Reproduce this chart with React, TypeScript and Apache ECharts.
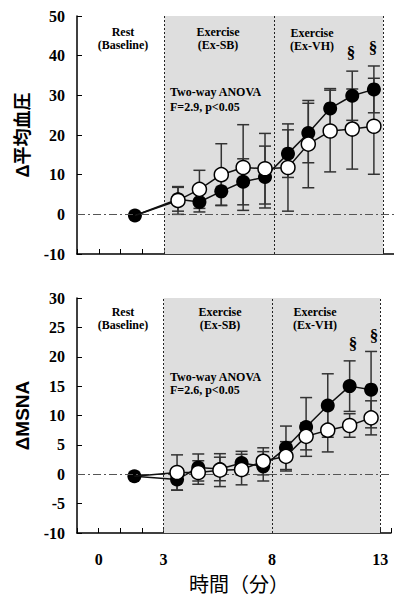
import React, { useEffect, useRef } from "react";
import * as echarts from "echarts";

// time (min) of each measurement
const baseTime = 1.65;
const times = [3.62, 4.6, 5.6, 6.6, 7.6, 8.65, 9.58, 10.58, 11.59, 12.58];

// Δ mean blood pressure (top panel)
const mapBlackBase = -0.3;
const mapBlack = [3.8, 3.1, 5.8, 8.2, 9.4, 15.3, 20.5, 26.7, 29.9, 31.5];
const mapBlackErr = [3.0, 2.5, 3.5, 5.8, 7.8, 6.0, 7.5, 5.0, 6.2, 5.9];
const mapWhite = [3.5, 6.3, 10.0, 11.8, 11.5, 11.8, 17.7, 21.0, 21.5, 22.2];
const mapWhiteErr = [3.5, 4.8, 7.8, 10.8, 8.9, 11.0, 11.0, 10.3, 10.1, 12.1];

// Δ MSNA (bottom panel)
const msnaBlackBase = -0.35;
const msnaBlack = [-0.9, 1.15, 0.9, 1.9, 1.35, 4.5, 8.05, 11.7, 15.0, 14.4];
const msnaBlackErr = [1.8, 2.3, 2.0, 2.0, 2.5, 3.7, 5.0, 5.4, 4.3, 6.5];
const msnaWhite = [0.3, 0.3, 0.7, 0.8, 2.2, 3.05, 6.45, 7.5, 8.3, 9.6];
const msnaWhiteErr = [3.0, 2.0, 2.8, 2.6, 2.3, 2.5, 2.3, 3.7, 2.0, 2.9];

const xTickLabels = [0, 3, 8, 13];
const phaseBounds = [3, 8, 13];

const SERIF = "'Liberation Serif', 'Times New Roman', serif";
const SANS = "'Liberation Sans', 'Noto Sans CJK JP', sans-serif";

function errData(vals: number[], errs: number[]) {
  return vals.map((v, i) => [times[i], v - errs[i], v + errs[i]]);
}

function errorSeries(vals: number[], errs: number[], idx: number) {
  return {
    type: "custom",
    xAxisIndex: idx,
    yAxisIndex: idx,
    z: 3,
    silent: true,
    data: errData(vals, errs),
    renderItem: (params: any, api: any) => {
      const x = api.value(0);
      const lo = api.coord([x, api.value(1)]);
      const hi = api.coord([x, api.value(2)]);
      const w = 6;
      const style = { stroke: "#333", lineWidth: 1.5 };
      return {
        type: "group",
        children: [
          { type: "line", shape: { x1: lo[0], y1: lo[1], x2: hi[0], y2: hi[1] }, style },
          { type: "line", shape: { x1: hi[0] - w, y1: hi[1], x2: hi[0] + w, y2: hi[1] }, style },
          { type: "line", shape: { x1: lo[0] - w, y1: lo[1], x2: lo[0] + w, y2: lo[1] }, style },
        ],
      };
    },
  };
}

function panelSeries(
  idx: number,
  blackBase: number,
  black: number[],
  blackErr: number[],
  white: number[],
  whiteErr: number[]
) {
  return [
    {
      type: "line",
      xAxisIndex: idx,
      yAxisIndex: idx,
      z: 1,
      silent: true,
      data: [],
      markArea: {
        silent: true,
        itemStyle: { color: "#dedede" },
        data: [[{ xAxis: phaseBounds[0] }, { xAxis: phaseBounds[2] }]],
      },
    },
    {
      type: "line",
      xAxisIndex: idx,
      yAxisIndex: idx,
      z: 2,
      silent: true,
      data: [],
      markLine: {
        silent: true,
        symbol: "none",
        label: { show: false },
        data: [
          ...phaseBounds.map((b) => ({
            xAxis: b,
            lineStyle: { color: "#222", width: 1, type: [2, 2] },
          })),
          { yAxis: 0, lineStyle: { color: "#555", width: 1.2, type: [8, 3, 2, 3] } },
        ],
      },
    },
    errorSeries(black, blackErr, idx),
    errorSeries(white, whiteErr, idx),
    {
      type: "line",
      xAxisIndex: idx,
      yAxisIndex: idx,
      z: 4,
      symbol: "circle",
      symbolSize: 14,
      lineStyle: { color: "#111", width: 1.5 },
      itemStyle: { color: "#000" },
      data: [[baseTime, blackBase], ...black.map((v, i) => [times[i], v])],
    },
    {
      type: "line",
      xAxisIndex: idx,
      yAxisIndex: idx,
      z: 5,
      symbol: "circle",
      symbolSize: 14,
      lineStyle: { color: "#111", width: 1.5 },
      itemStyle: { color: "#fff", borderColor: "#000", borderWidth: 1.5 },
      data: [
        { value: [baseTime, blackBase], symbolSize: 0 },
        ...white.map((v, i) => [times[i], v]),
      ],
    },
  ];
}

function xAxisOpt(idx: number, showLabels: boolean) {
  return {
    type: "value",
    gridIndex: idx,
    min: -1,
    max: 13.5,
    interval: 1,
    axisLine: { onZero: false, lineStyle: { color: "#000", width: 1.5 } },
    axisTick: { inside: true, length: 5, lineStyle: { color: "#000", width: 1 } },
    splitLine: { show: false },
    axisLabel: {
      show: showLabels,
      margin: 18,
      fontFamily: SERIF,
      fontWeight: "bold",
      fontSize: 16,
      color: "#000",
      formatter: (v: number) => (xTickLabels.includes(v) ? String(v) : ""),
    },
    name: showLabels ? "時間（分）" : "",
    nameLocation: "middle",
    nameGap: 42,
    nameTextStyle: { fontFamily: SANS, fontSize: 20, color: "#000", padding: [0, 0, 0, 10] },
  };
}

function yAxisOpt(idx: number, min: number, max: number, interval: number, name: string, nameSize: number) {
  return {
    type: "value",
    gridIndex: idx,
    min,
    max,
    interval,
    axisLine: { show: true, onZero: false, lineStyle: { color: "#000", width: 1.5 } },
    axisTick: { show: true, inside: true, length: 5, lineStyle: { color: "#000", width: 1 } },
    splitLine: { show: false },
    axisLabel: {
      margin: 12,
      fontFamily: SERIF,
      fontWeight: "bold",
      fontSize: 16,
      color: "#000",
    },
    name,
    nameLocation: "middle",
    nameGap: 45,
    nameTextStyle: { fontFamily: SANS, fontWeight: "bold", fontSize: nameSize, color: "#000" },
  };
}

function label(text: string, x: number, y: number, size = 12, align = "center") {
  return {
    type: "text",
    x,
    y,
    z: 10,
    style: {
      text,
      fill: "#000",
      font: `bold ${size}px ${SERIF}`,
      textAlign: align,
      textVerticalAlign: "middle",
    },
  };
}

export default function App() {
  const ref = useRef<HTMLDivElement>(null);
  useEffect(() => {
    if (!ref.current) return;
    const chart = echarts.init(ref.current, undefined, { renderer: "svg" });
    chart.setOption({
      animation: false,
      backgroundColor: "#fff",
      grid: [
        { left: 77, top: 16, width: 317, height: 238 },
        { left: 77, top: 298, width: 317, height: 235 },
      ],
      xAxis: [xAxisOpt(0, false), xAxisOpt(1, true)],
      yAxis: [
        yAxisOpt(0, -10, 50, 10, "Δ平均血圧", 18),
        yAxisOpt(1, -10, 30, 5, "ΔMSNA", 19),
      ],
      series: [
        ...panelSeries(0, mapBlackBase, mapBlack, mapBlackErr, mapWhite, mapWhiteErr),
        ...panelSeries(1, msnaBlackBase, msnaBlack, msnaBlackErr, msnaWhite, msnaWhiteErr),
      ],
      graphic: [
        label("Rest", 123, 32),
        label("(Baseline)", 123, 45),
        label("Exercise", 218, 32),
        label("(Ex-SB)", 218, 45),
        label("Exercise", 312, 33),
        label("(Ex-VH)", 312, 46),
        label("§", 351, 52, 17),
        label("§", 373, 47, 17),
        label("Two-way ANOVA", 170, 92, 12, "left"),
        label("F=2.9, p<0.05", 170, 107, 12, "left"),
        label("Rest", 123, 312),
        label("(Baseline)", 123, 325),
        label("Exercise", 220, 312),
        label("(Ex-SB)", 220, 325),
        label("Exercise", 315, 312),
        label("(Ex-VH)", 315, 325),
        label("§", 353, 343, 17),
        label("§", 374, 335, 17),
        label("Two-way ANOVA", 170, 377, 12, "left"),
        label("F=2.6, p<0.05", 170, 390, 12, "left"),
      ],
    });
    return () => chart.dispose();
  }, []);
  return (
    <div
      ref={ref}
      style={{ position: "fixed", left: 0, top: 0, width: 394, height: 596, background: "#fff" }}
    />
  );
}
